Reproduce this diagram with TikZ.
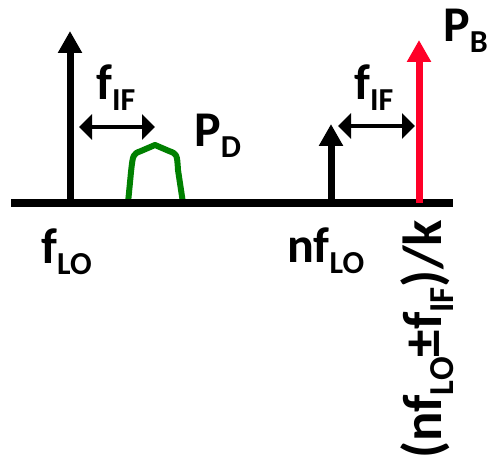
\documentclass[tikz,border=0pt]{standalone}
\usepackage{fontspec}
\setmainfont{Carlito}
\usetikzlibrary{arrows.meta}
\newcommand\mysub[1]{\raisebox{-11pt}{\fontsize{32}{32}\selectfont #1}}
\newcommand\mybigsub[1]{\raisebox{-12pt}{\fontsize{35}{35}\selectfont #1}}
\definecolor{specred}{RGB}{255,0,40}
\definecolor{specgreen}{RGB}{0,128,0}
\tikzset{
  lbl/.style={inner sep=0pt, anchor=base west, font=\fontsize{50}{60}\selectfont\bfseries},
  biglbl/.style={inner sep=0pt, anchor=base west, font=\fontsize{55}{66}\selectfont\bfseries},
  tone/.style={line width=7pt, -{Triangle[width=23pt,length=22pt]}},
  span/.style={line width=4pt, {Triangle[width=25pt,length=13pt]}-{Triangle[width=25pt,length=13pt]}},
  axis/.style={line width=8pt},
  band/.style={line width=6pt, specgreen, line join=round}
}
\begin{document}
\begin{tikzpicture}[x=1pt,y=-1pt]
\useasboundingbox (0,0) rectangle (491,460);
% coordinates
\coordinate (axL) at (11,203);
\coordinate (axR) at (453,203);
\coordinate (loB) at (70,203);
\coordinate (loT) at (70,31);
\coordinate (nB) at (331,203);
\coordinate (nT) at (331,124);
\coordinate (rB) at (419,203);
\coordinate (rT) at (419,40);
\coordinate (s1a) at (79,127);
\coordinate (s1b) at (155,127);
\coordinate (s2a) at (338,126);
\coordinate (s2b) at (415,126);
% green band
\draw[band] (128,203) -- (131,172) .. controls (133,154) .. (141,151) -- (155,145) -- (169,151) .. controls (177,154) .. (178,170) -- (183,203);
% axis
\draw[axis] (axL) -- (axR);
% tones
\draw[tone] (loB) -- (loT);
\draw[tone] (nB) -- (nT);
\draw[tone, specred] (rB) -- (rT);
% spans
\draw[span] (s1a) -- (s1b);
\draw[span] (s2a) -- (s2b);
% labels
\node[lbl] (fif1) at (96,100) {f\mysub{IF}};
\node[lbl] (fif2) at (354,100) {f\mysub{IF}};
\node[lbl] (pd) at (194,147) {P\mysub{D}};
\node[lbl] (pb) at (443,42) {P\mysub{B}};
\node[lbl] (flo) at (41,263) {f\mysub{LO}};
\node[lbl] (nflo) at (287,262) {nf\mysub{LO}};
\node[biglbl, rotate=90] (res) at (441,459) {(nf\mybigsub{LO}±f\mybigsub{IF})/k};
\end{tikzpicture}
\end{document}
